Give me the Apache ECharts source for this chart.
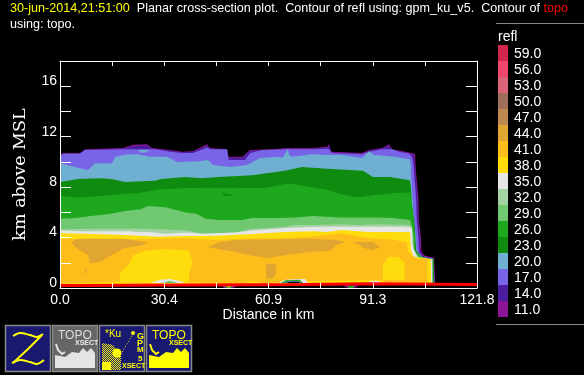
<!DOCTYPE html>
<html>
<head>
<meta charset="utf-8">
<style>
  html, body { margin: 0; padding: 0; background: #000; }
  #chart { width: 584px; height: 375px; }
</style>
<script src="https://cdn.jsdelivr.net/npm/echarts@6/dist/echarts.min.js"></script>
</head>
<body>
<div id="chart"></div>
<script>
// tick labels
var xTickLabels = ['0.0', '', '30.4', '', '60.9', '', '91.3', '', '121.8'];
var yTickLabels = ['0', '', '4', '', '8', '', '12', '', '16', ''];

// colour key
var keyLevels = ['59.0', '56.0', '53.0', '50.0', '47.0', '44.0', '41.0', '38.0', '35.0', '32.0', '29.0', '26.0', '23.0', '20.0', '17.0', '14.0', '11.0'];
var keyColors = ['#d2274a', '#f0466e', '#dc6478', '#a0705a', '#be8a50', '#e1a532', '#fdbd1a', '#ffdc0c', '#e6e6e6', '#a3d2a3', '#70c870', '#1ea81e', '#0f8c0f', '#6eafd2', '#7864e6', '#4b1ea0', '#8c1496'];

// top of each refl band, [distance km, height km]
var band11 = [[0,10.55],[0.9,10.7],[5.8,10.7],[7.3,11],[18.4,11.1],[21.3,11.35],[25.4,11.4],[26.9,11.1],[32.1,10.95],[35.6,10.8],[38.8,10.85],[41.8,11.25],[42.9,11.4],[43.8,11.1],[48.8,11],[49.1,10.4],[53.2,10.4],[55.5,10.95],[62.2,11],[66.3,11.1],[73.6,11.1],[78,11.2],[78.6,11.4],[79.2,10.8],[88.2,10.7],[90.3,10.95],[94,11.1],[96.1,11.4],[97,11],[102.8,10.7],[103.7,10.6],[103.8,9.9],[104.2,8.55],[104.7,7.15],[104.8,5.4],[105.4,4.05],[105.6,2.85],[106.6,2.55],[109.3,2.4],[109.65,2.4],[109.65,0]];
var band14 = [[0,10.5],[0.9,10.65],[5.8,10.65],[7.3,10.95],[18.4,11.05],[21.3,11.25],[25.4,11.3],[26.9,11.05],[32.1,10.88],[35.6,10.75],[38.8,10.8],[41.8,11.15],[42.9,11.3],[43.8,11.05],[48.8,10.95],[49.3,10.32],[53.2,10.32],[55.5,10.88],[62.2,10.95],[66.3,11.05],[73.6,11.05],[78,11.15],[78.6,11.3],[79.3,10.75],[88.2,10.65],[90.3,10.9],[94,11.05],[96.1,11.3],[97.2,10.95],[102.5,10.65],[103.3,10.55],[103.6,9.9],[104,8.55],[104.4,7.15],[104.6,5.4],[105.1,4.05],[105.3,2.85],[106.3,2.47],[109,2.35],[109.55,2.35],[109.55,0]];
var band17 = [[0,10.5],[0.9,10.65],[5.8,10.65],[7.3,10.95],[19,11],[28,11],[32.1,10.8],[35.6,10.7],[38.8,10.7],[41.8,11],[42.9,11.15],[43.8,11],[48.8,11],[49.3,10.15],[54,10.15],[55.5,10.7],[59,10.95],[66,11],[74,11],[78,11.05],[78.6,11],[79.4,10.7],[88,10.6],[90.3,10.8],[94,11],[97,11],[99,10.8],[102,10.65],[102.8,10.4],[103.2,9.9],[103.6,8.55],[104,7.15],[104.2,5.4],[104.7,4.05],[104.9,2.85],[105.9,2.42],[109,2.33],[109.45,2.33],[109.45,0]];
var band20 = [[0,9.9],[5.8,9.5],[8.2,9.35],[10.2,9.9],[15.2,9.9],[16.1,10.4],[19.9,10.6],[22.5,10.6],[26.3,10.4],[31.3,10.4],[34.2,10],[40.9,10.05],[43.2,10.15],[44.7,9.75],[49.7,9.6],[54.6,9.75],[58.4,10.3],[63.4,10.4],[65.1,10.35],[66.6,11.05],[66.9,10.55],[67.8,10.4],[73.6,10.6],[77.4,10.55],[82.4,10.55],[88.2,10.3],[90.3,10.85],[91.7,10.55],[97.9,10.4],[102.2,10.2],[102.5,9.75],[102.5,8.9],[103,7.2],[103.4,5.4],[104,4.05],[104.2,2.85],[106,2.45],[108.9,2.3],[109.35,2.3],[109.35,0]];
var band23 = [[0,8.4],[5.3,8.65],[12,8.7],[14.9,8.65],[19,8.4],[27.7,8.5],[29.5,8.65],[36.5,8.8],[41.5,8.7],[46.2,8.8],[56.1,8.95],[65.7,9.3],[70.7,9.6],[78,9.45],[84.7,9.35],[88.5,9.3],[91.4,8.8],[96.4,8.8],[102.2,8.55],[102.5,8],[102.8,6.75],[103.5,5.25],[103.8,4.05],[104,3],[105.6,2.45],[108.6,2.3],[109.2,2.3],[109.2,0]];
var band26 = [[0,7.3],[5.3,7.15],[10.2,7.25],[16.8,7.4],[23.6,7.55],[28.6,7.8],[37.4,7.95],[41.5,7.9],[51.1,7.9],[60.7,7.95],[66.6,8.3],[74,7.95],[78,7.8],[82.8,7.4],[86.9,7.2],[92.7,7.4],[98.6,7.55],[102.2,7.55],[102.5,7.4],[102.8,6.75],[103.3,5.4],[103.7,4.05],[103.7,3],[105.4,2.45],[108.2,2.3],[108.85,2.3],[108.85,0]];
var band29 = [[0,5.5],[4.4,5.55],[9,5.7],[14,5.85],[19,6.1],[23.6,6.25],[25.7,6.5],[30.7,6.4],[37.4,5.95],[39.7,5.9],[42.6,5.5],[46.2,5.4],[53.2,5.4],[56.1,5.55],[63.7,5.55],[68.7,5.6],[74,5.7],[81.8,5.6],[87.6,5.6],[92.6,5.6],[97.3,5.55],[102.2,5.4],[102.7,5],[103.2,4.4],[103.4,3],[104.9,2.45],[108,2.28],[108.8,2.28],[108.8,0]];
var band32 = [[0,4.65],[10,4.7],[23.6,4.7],[28.6,4.65],[37.4,4.55],[41.5,4.3],[51.1,4.4],[56.1,4.7],[63.7,4.8],[69,5],[74,5],[81.8,5.05],[87.6,5],[92.6,5.05],[102.2,5],[102.6,4.6],[103.1,4.2],[103.3,3],[104.7,2.45],[107.7,2.28],[108.75,2.28],[108.75,0]];
var band35 = [[0,4.55],[5,4.5],[21,4.5],[22,4.45],[26,4.45],[30.7,4.3],[37.4,4.4],[41.5,4.3],[51.1,4.4],[56.1,4.55],[65.7,4.75],[74.5,4.85],[78.8,4.85],[100,4.85],[102.8,4.8],[102.8,3.55],[104.3,2.4],[107.5,2.3],[108.7,2.3],[108.7,0]];
var band38 = [[0,4.35],[10,4.28],[19,4.2],[28.6,4.07],[37.4,4.12],[46.2,4.15],[56.1,4.28],[65.7,4.44],[74,4.5],[78,4.45],[82.4,4.6],[90,4.45],[102.2,4.44],[102.5,3],[103.4,2.45],[108.3,2.3],[108.4,2.3],[108.4,0]];
var band41 = [[0,3.9],[20,3.85],[37.4,3.95],[46.2,3.8],[56.1,3.95],[66.6,3.95],[74,4.1],[78,4.2],[82,4.35],[90,3.95],[97,3.85],[101.3,3.6],[101.6,2.9],[102.8,2.6],[104.5,2.3],[107.3,2.3],[107.3,0]];
var floor38 = [[0,0.3],[4.5,0.38],[5,0.5],[17,0.5],[40,0.45],[54,0.4],[55,0.55],[58,0.5],[59,0.35],[63,0.35],[73,0.55],[94,0.65],[95,0.4],[107.3,0.4],[107.3,0]];

// closed cells inside the bands
var cell20 = [[22.8,10.95],[26.3,10.95],[25,10.75],[23.7,10.72]];
var cell23 = [[47.5,7.55],[49.5,7.45],[50.5,7.4],[49.5,7.3],[47.8,7.3]];
var cell38a = [[17.5,0.4],[17.5,1.25],[20,1.8],[21.4,2.6],[24.8,2.95],[29.5,3.1],[37.7,3],[38,2.6],[38.8,2],[37.7,1.2],[37.7,0.4]];
var cell38b = [[94.3,0.65],[94.3,1.8],[95.8,2.45],[98.7,2.45],[100.7,2],[100.7,0.65]];
var cell44a = [[3.2,3.65],[5.3,3.9],[19,3.9],[25.7,3.6],[23.6,3.35],[19,3.2],[14.9,2.6],[12,2.1],[8.8,1.95],[8.2,2.6],[4.7,3.2]];
var cell44b = [[43.2,3.25],[46.2,3.6],[51.1,3.8],[73,3.9],[80.9,3.8],[83.2,3.65],[80.9,3.4],[78.9,2.95],[73,2.85],[65.7,2.6],[60.7,2.38],[56.1,2.55],[51.1,2.85],[46.2,3.1]];
var cell44c = [[85.6,3.65],[91.4,3.65],[93.5,3.25],[91.4,3],[88.5,3.2],[87.6,3.4]];
var cell44d = [[60.2,1.9],[61.5,1.95],[63.1,1.85],[63,1.1],[62,0.75],[60.2,0.75]];
var cell44e = [[7.3,1.55],[7.7,1.55],[7.7,1.15],[7.3,1.15]];

// small echoes at the ground
var mound35a = [[26.6,0.4],[29.2,0.65],[32.1,0.72],[35,0.55],[36.5,0.4]];
var mound29a = [[30,0.4],[32,0.58],[34.5,0.4]];
var mound35b = [[63.7,0.4],[65.7,0.65],[70,0.72],[71.6,0.72],[72.5,0.4]];
var mound26b = [[64.5,0.4],[66,0.62],[70,0.66],[71,0.4]];
var mound17b = [[65.5,0.4],[67,0.54],[69.5,0.56],[70.5,0.4]];
var moundNoneB = [[66,0.38],[67,0.48],[69.5,0.5],[70.2,0.38]];
var mound35c = [[90,0.4],[91,0.58],[93,0.55],[94,0.4]];
var under11a = [[47.3,0.18],[51.8,0.18],[50.5,0],[48,0]];
var under26a = [[48,0.16],[50.6,0.16],[50,0.02],[48.5,0.02]];
var under38a = [[48.8,0.14],[49.8,0.14],[49.5,0.03],[49,0.03]];
var under11b = [[82.5,0.22],[87.5,0.22],[86,0],[84,0]];
var under26b = [[83.8,0.18],[86.2,0.18],[85.5,0],[84.5,0]];

// topo contour
var topoLine = [[0,0.2],[3.2,0.2],[3.3,0.28],[70.5,0.28],[71,0.34],[90.5,0.34],[91,0.28],[121.8,0.28]];

var baseFont = '"Liberation Sans", Helvetica, Arial, sans-serif';
var groundLevel = 0.25;

function bandSeries(color, pts) {
  return {
    type: 'line', data: pts, showSymbol: false, silent: true, sampling: false,
    lineStyle: { width: 0 },
    itemStyle: { color: color },
    areaStyle: { color: color, opacity: 1, origin: groundLevel }
  };
}
function cellSeries(color, pts) {
  return {
    type: 'custom', coordinateSystem: 'cartesian2d', silent: true, data: pts,
    renderItem: function (params, api) {
      if (params.dataIndex !== 0) return null;
      return {
        type: 'polygon',
        shape: { points: pts.map(function (p) { return api.coord(p); }) },
        style: { fill: color }
      };
    }
  };
}

var C = {};
keyLevels.forEach(function (l, i) { C[parseInt(l)] = keyColors[i]; });

var series = [
  bandSeries(C[11], band11), bandSeries(C[14], band14), bandSeries(C[17], band17),
  cellSeries(C[20], cell20),
  bandSeries(C[20], band20), bandSeries(C[23], band23), bandSeries(C[26], band26),
  cellSeries(C[23], cell23),
  bandSeries(C[29], band29), bandSeries(C[32], band32), bandSeries(C[35], band35),
  bandSeries(C[38], band38), bandSeries(C[41], band41), bandSeries(C[38], floor38),
  cellSeries(C[38], cell38a), cellSeries(C[38], cell38b),
  cellSeries(C[44], cell44a), cellSeries(C[44], cell44b), cellSeries(C[44], cell44c),
  cellSeries(C[44], cell44d), cellSeries(C[44], cell44e),
  cellSeries(C[35], mound35a), cellSeries(C[29], mound29a),
  cellSeries(C[35], mound35b), cellSeries(C[26], mound26b), cellSeries(C[17], mound17b),
  cellSeries('#000', moundNoneB), cellSeries(C[35], mound35c),
  cellSeries(C[11], under11a), cellSeries(C[26], under26a), cellSeries(C[38], under38a),
  cellSeries(C[11], under11b), cellSeries(C[26], under26b),
  {
    type: 'line', data: topoLine, showSymbol: false, silent: true,
    lineStyle: { color: '#ff0000', width: 3 }
  }
];
series.forEach(function (s, i) { s.z = 2 + i * 0.01; });

// colour key as a one column bar chart
series.push({
  type: 'bar', xAxisIndex: 2, yAxisIndex: 2, barWidth: '100%', silent: true, z: 3,
  data: keyColors.map(function (c) { return { value: 1, itemStyle: { color: c } }; })
});

// ---- little buttons along the bottom
var NAVY = '#191970', YEL = '#ffff00', BTN = '#888888';
function checker() {
  var cv = document.createElement('canvas');
  cv.width = 2; cv.height = 2;
  var g = cv.getContext('2d');
  g.fillStyle = YEL;
  g.fillRect(0, 0, 1, 1); g.fillRect(1, 1, 1, 1);
  return { image: cv, repeat: 'repeat' };
}
function box(x, fill) {
  return { type: 'rect', shape: { x: x + 0.5, y: 325.5, width: 45, height: 46 }, style: { fill: fill, stroke: BTN, lineWidth: 1.5 } };
}
function label(x, y, text, size, color, weight) {
  return { type: 'text', x: x, y: y, style: { text: text, fill: color, font: (weight || 'normal') + ' ' + size + 'px ' + baseFont } };
}
function ridge(x, color) {
  var shape = [[3,35],[13,37],[20,32],[27,33],[31,28],[35,32],[39,28],[43,33],[43,48],[3,48]];
  return { type: 'polygon', shape: { points: shape.map(function (p) { return [x + p[0], 320 + p[1]]; }) }, style: { fill: color } };
}
function dish(x, color) {
  return { type: 'polyline', shape: { points: [[x + 4, 344], [x + 6, 350], [x + 10, 354], [x + 13, 352]] }, style: { stroke: color, lineWidth: 2, fill: 'none' } };
}
var buttons = [
  box(5, NAVY),
  { type: 'polyline', shape: { smooth: 0.3, points: [[13,336],[20,333],[30,335],[37,337],[43,334]] }, style: { stroke: YEL, lineWidth: 2, fill: 'none' } },
  { type: 'polyline', shape: { points: [[42,335],[28,349],[13,363]] }, style: { stroke: YEL, lineWidth: 2, fill: 'none' } },
  { type: 'polyline', shape: { smooth: 0.3, points: [[12,363],[20,360],[30,362],[37,364],[44,360]] }, style: { stroke: YEL, lineWidth: 2, fill: 'none' } },

  box(52, '#666666'),
  label(58, 330, 'TOPO', 12, '#dddddd'),
  label(75, 340, 'XSECT', 7, '#eeeeee', 'bold'),
  ridge(52, '#e4e4e4'), dish(52, '#e4e4e4'),

  box(99, NAVY),
  label(105, 329, '*Ku', 10, YEL),
  label(137, 332, 'G', 9, YEL, 'bold'), label(137, 339, 'P', 9, YEL, 'bold'), label(137, 346, 'M', 8, YEL, 'bold'), label(138, 355, '5', 8, YEL, 'bold'),
  label(122, 363, 'XSECT', 7, YEL, 'bold'),
  { type: 'polygon', shape: { points: [[102,343],[113,345],[121,355],[121,370],[102,370]] }, style: { fill: checker() } },
  { type: 'circle', shape: { cx: 117, cy: 353, r: 4.5 }, style: { fill: YEL } },
  { type: 'rect', shape: { x: 102, y: 362, width: 9, height: 8 }, style: { fill: YEL } },
  { type: 'line', shape: { x1: 122, y1: 352, x2: 133, y2: 334 }, style: { stroke: YEL, lineWidth: 1, lineDash: [1, 2] } },
  { type: 'circle', shape: { cx: 133, cy: 333, r: 2 }, style: { fill: YEL } },

  box(146, NAVY),
  label(152, 330, 'TOPO', 12, YEL),
  label(169, 340, 'XSECT', 7, YEL, 'bold'),
  ridge(146, YEL), dish(146, YEL)
];

var chart = echarts.init(document.getElementById('chart'), null, { renderer: 'canvas' });
chart.setOption({
  backgroundColor: '#000',
  animation: false,
  title: {
    left: 10, top: 1, padding: 0,
    text: '{y|30-jun-2014,21:51:00}{w|  Planar cross-section plot.  Contour of refl using: gpm_ku_v5.  Contour of }{r|topo}\n{w|using: topo.}',
    textStyle: {
      rich: {
        y: { color: '#ffff00', fontSize: 12.6, fontWeight: 'normal', fontFamily: baseFont, lineHeight: 16 },
        w: { color: '#ffffff', fontSize: 12.6, fontWeight: 'normal', fontFamily: baseFont, lineHeight: 16 },
        r: { color: '#ff0000', fontSize: 12.6, fontWeight: 'normal', fontFamily: baseFont, lineHeight: 16 }
      }
    }
  },
  grid: [
    { left: 60, width: 417, top: 61, height: 227 },
    { left: 498, width: 10, top: 45, height: 272 }
  ],
  xAxis: [
    {
      type: 'value', gridIndex: 0, min: 0, max: 121.8, interval: 15.225, z: 10,
      name: 'Distance in km', nameLocation: 'middle', nameGap: 20, nameMoveOverlap: false,
      nameTextStyle: { color: '#fff', fontSize: 14, fontFamily: baseFont },
      splitLine: { show: false },
      axisLine: { onZero: false, lineStyle: { color: '#fff', width: 1 } },
      axisTick: { inside: true, length: 5, lineStyle: { color: '#fff' } },
      axisLabel: {
        color: '#fff', fontSize: 14, fontFamily: baseFont, margin: 5, showMinLabel: true, showMaxLabel: true, hideOverlap: false,
        formatter: function (v) { return xTickLabels[Math.round(v / 15.225)]; }
      }
    },
    {
      type: 'value', gridIndex: 0, position: 'top', min: 0, max: 121.8, interval: 15.225, z: 10,
      splitLine: { show: false },
      axisLine: { onZero: false, lineStyle: { color: '#fff', width: 1 } },
      axisTick: { inside: true, length: 5, lineStyle: { color: '#fff' } },
      axisLabel: { show: false }
    },
    {
      type: 'value', gridIndex: 1, min: 0, max: 1, show: false
    }
  ],
  yAxis: [
    {
      type: 'value', gridIndex: 0, min: 0, max: 18, interval: 2, z: 10,
      name: 'km above MSL', nameLocation: 'middle', nameGap: 31, nameRotate: 90, nameMoveOverlap: false,
      nameTextStyle: { color: '#fff', fontSize: 17.5, fontFamily: '"DejaVu Serif", serif' },
      splitLine: { show: false },
      axisLine: { onZero: false, lineStyle: { color: '#fff', width: 1 } },
      axisTick: { inside: true, length: 11, lineStyle: { color: '#fff' } },
      axisLabel: {
        color: '#fff', fontSize: 14, fontFamily: baseFont, margin: 3, verticalAlign: 'bottom', lineHeight: 10,
        formatter: function (v) { return yTickLabels[Math.round(v / 2)] || ''; }
      }
    },
    {
      type: 'value', gridIndex: 0, position: 'right', min: 0, max: 18, interval: 2, z: 10,
      splitLine: { show: false },
      axisLine: { onZero: false, lineStyle: { color: '#fff', width: 1 } },
      axisTick: { inside: true, length: 11, lineStyle: { color: '#fff' } },
      axisLabel: { show: false }
    },
    {
      type: 'category', gridIndex: 1, position: 'right', inverse: true, data: keyLevels,
      axisLine: { show: false },
      axisTick: { show: false },
      axisLabel: { color: '#fff', fontSize: 14, fontFamily: baseFont, margin: 6, interval: 0, verticalAlign: 'top', lineHeight: 3 }
    }
  ],
  graphic: {
    elements: [
      { type: 'line', shape: { x1: 496, y1: 23.5, x2: 584, y2: 23.5 }, style: { stroke: '#888', lineWidth: 1 } },
      { type: 'line', shape: { x1: 496, y1: 324.5, x2: 584, y2: 324.5 }, style: { stroke: '#888', lineWidth: 1 } },
      { type: 'text', x: 498, y: 30, style: { text: 'refl', fill: '#fff', font: '14px ' + baseFont } }
    ].concat(buttons)
  },
  series: series
});
</script>
</body>
</html>
